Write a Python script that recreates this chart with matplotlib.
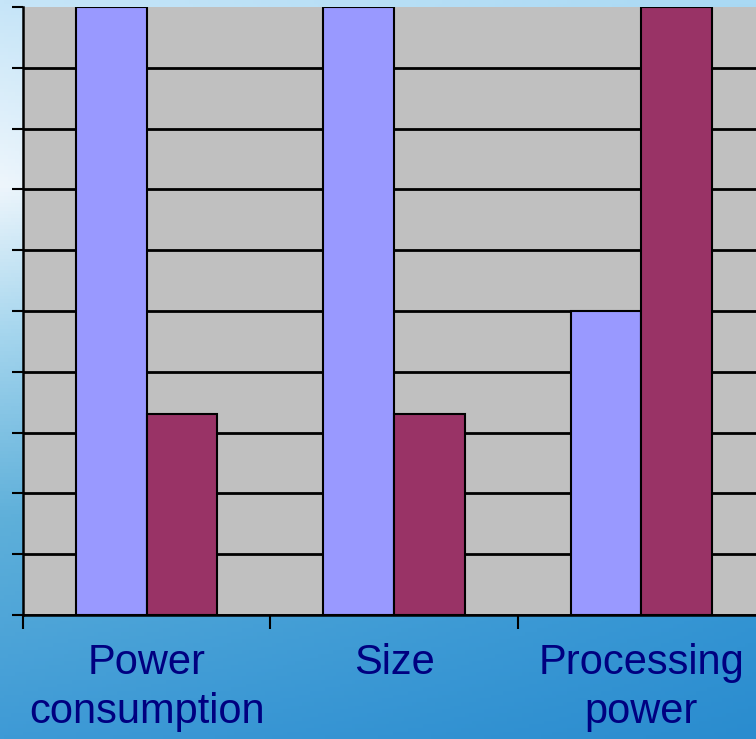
import numpy as np
import matplotlib
matplotlib.use("Agg")
import matplotlib.pyplot as plt
from matplotlib.colors import to_rgb

categories = ["Power\nconsumption", "Size", "Processing\npower"]
series_a = [10, 10, 5]      # light blue bars
series_b = [3.3, 3.3, 10]   # maroon bars
y_ticks = list(range(0, 11))

plt.rcParams['font.family'] = ['Liberation Sans', 'DejaVu Sans']

fig = plt.figure(figsize=(7.56, 7.39), dpi=100)

# background gradient
bg = fig.add_axes([0, 0, 1, 1], zorder=-10)
bg.set_axis_off()
H, W = 200, 200
left_stops = [(0.0, "#c6e5f8"), (0.25, "#eef6fc"), (0.45, "#a6d6ee"), (0.7, "#5fb0da"), (1.0, "#3e9ad6")]
right_stops = [(0.0, "#a9d9f4"), (0.3, "#7cc2ea"), (0.7, "#3a9ad6"), (1.0, "#2a8ccf")]

def column(stops):
    ys = np.linspace(0, 1, H)
    pos = [s[0] for s in stops]
    cols = np.array([to_rgb(s[1]) for s in stops])
    return np.stack([np.interp(ys, pos, cols[:, k]) for k in range(3)], axis=1)

lc = column(left_stops)
rc = column(right_stops)
t = np.linspace(0, 1, W)[None, :, None]
img = lc[:, None, :] * (1 - t) + rc[:, None, :] * t
bg.imshow(img, aspect='auto', extent=[0, 1, 0, 1], origin='upper')
bg.set_xlim(0, 1)
bg.set_ylim(0, 1)

ax = fig.add_axes([23 / 756, (739 - 615) / 739, 742 / 756, 608 / 739])
ax.set_facecolor("#c0c0c0")
n = len(categories)
x = np.arange(n) + 0.5
w = 1 / 3.5
ax.bar(x - w / 2, series_a, width=w, color="#9999ff", edgecolor="black", linewidth=1.5, zorder=3)
ax.bar(x + w / 2, series_b, width=w, color="#993366", edgecolor="black", linewidth=1.5, zorder=3)

ax.set_xlim(0, n)
ax.set_ylim(0, 10)
ax.set_yticks(y_ticks)
ax.set_yticklabels([])
ax.yaxis.grid(True, color="black", linewidth=2)
ax.set_axisbelow(True)
ax.yaxis.get_gridlines()[-1].set_visible(False)

ax.set_xticks(np.arange(n + 1))
ax.set_xticklabels([])
ax.set_xticks(x, minor=True)
ax.set_xticklabels(categories, minor=True, fontsize=30, color="#000080", linespacing=1.3)
ax.tick_params(axis='x', which='major', direction='out', length=10, width=1.5, color='black')
ax.tick_params(axis='x', which='minor', length=0, pad=20)
ax.tick_params(axis='y', direction='out', length=8, width=1.5, color='black')

for s in ['top', 'right']:
    ax.spines[s].set_visible(False)
for s in ['left', 'bottom']:
    ax.spines[s].set_linewidth(1.8)
    ax.spines[s].set_color('black')

fig.savefig("out.png", dpi=100)
